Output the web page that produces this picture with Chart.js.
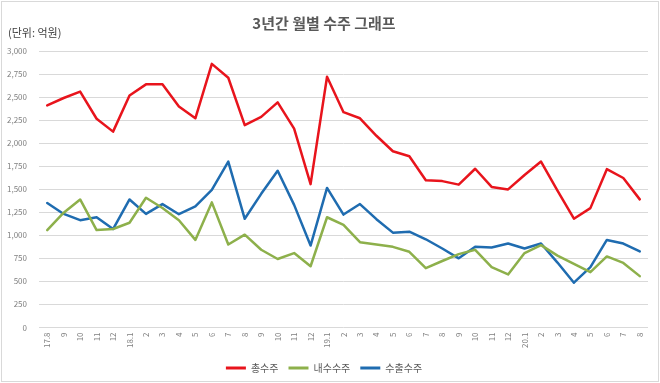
<!DOCTYPE html>
<html>
<head>
<meta charset="utf-8">
<script src="https://cdn.jsdelivr.net/npm/chart.js@4/dist/chart.umd.min.js"></script>
<style>
  html, body { margin: 0; padding: 0; background: #fff; }
  #wrap { position: relative; width: 660px; height: 383px; }
</style>
</head>
<body>
<div id="wrap"><canvas id="c" width="660" height="383"></canvas></div>
<script>
const categories = ['17.8','9','10','11','12','18.1','2','3','4','5','6','7','8','9','10','11','12','19.1','2','3','4','5','6','7','8','9','10','11','12','20.1','2','3','4','5','6','7','8'];
const totalOrders = [2410,2490,2560,2265,2125,2518,2638,2638,2398,2270,2860,2710,2195,2285,2443,2158,1555,2720,2336,2270,2080,1912,1858,1598,1588,1550,1722,1525,1498,1655,1800,1485,1180,1295,1718,1622,1390];
const domesticOrders = [1057,1245,1389,1057,1068,1136,1407,1296,1164,950,1357,900,1007,843,743,807,664,1196,1114,925,900,875,821,643,721,796,843,654,575,807,893,779,689,600,771,700,557];
const exportOrders = [1350,1232,1164,1196,1068,1389,1232,1339,1229,1314,1493,1800,1179,1450,1700,1330,889,1514,1225,1339,1175,1029,1039,957,857,750,875,868,911,857,911,704,486,654,950,911,825];
const seriesNames = ['총수주','내수수주','수출수주'];
const yTicks = [0,250,500,750,1000,1250,1500,1750,2000,2250,2500,2750,3000];

const FONT = "'Noto Sans CJK KR', 'Noto Sans', sans-serif";

const framePlugin = {
  id: 'frame',
  beforeDraw(chart) {
    const ctx = chart.ctx;
    ctx.save();
    ctx.fillStyle = '#ffffff';
    ctx.fillRect(0, 0, chart.width, chart.height);
    ctx.strokeStyle = '#d9d9d9';
    ctx.lineWidth = 1;
    ctx.strokeRect(1.5, 1.5, chart.width - 3, chart.height - 3);
    ctx.restore();
  },
  afterDraw(chart) {
    const ctx = chart.ctx;
    ctx.save();
    ctx.font = "11px " + FONT;
    ctx.fillStyle = '#404040';
    ctx.textBaseline = 'middle';
    ctx.textAlign = 'left';
    ctx.fillText('(단위: 억원)', 8, 33);
    ctx.restore();
  }
};

new Chart(document.getElementById('c'), {
  type: 'line',
  data: {
    labels: categories,
    datasets: [
      { label: seriesNames[0], data: totalOrders, borderColor: '#e8141c', backgroundColor: '#e8141c' },
      { label: seriesNames[1], data: domesticOrders, borderColor: '#8db04b', backgroundColor: '#8db04b' },
      { label: seriesNames[2], data: exportOrders, borderColor: '#1f6cb0', backgroundColor: '#1f6cb0' }
    ]
  },
  options: {
    responsive: false,
    animation: false,
    devicePixelRatio: 1,
    layout: { padding: { left: 0, right: 12, top: 0, bottom: 0 } },
    elements: {
      line: { borderWidth: 2.5, tension: 0, borderJoinStyle: 'round', borderCapStyle: 'round' },
      point: { radius: 0, hoverRadius: 0 }
    },
    scales: {
      x: {
        offset: true,
        grid: { display: false, drawTicks: false },
        border: { display: false },
        ticks: {
          font: { size: 8, family: FONT },
          color: '#7f7f7f',
          minRotation: 90,
          maxRotation: 90,
          autoSkip: false,
          padding: 5
        }
      },
      y: {
        min: 0,
        max: 3000,
        afterBuildTicks(scale) { scale.ticks = yTicks.map(v => ({ value: v })); },
        afterFit(scale) { scale.width = 39; },
        grid: { color: '#d9d9d9', drawTicks: false, lineWidth: 1 },
        border: { display: false },
        ticks: {
          font: { size: 8, family: FONT },
          color: '#7f7f7f',
          padding: 12,
          callback: v => v.toLocaleString('en-US')
        }
      }
    },
    plugins: {
      title: {
        display: true,
        text: '3년간 월별 수주 그래프',
        color: '#595959',
        font: { size: 15, weight: 'bold', family: FONT },
        padding: { top: 14, bottom: 19 }
      },
      legend: {
        position: 'bottom',
        labels: {
          boxWidth: 20,
          boxHeight: 3,
          padding: 10,
          color: '#595959',
          font: { size: 10, family: FONT, lineHeight: 1 },
          generateLabels(chart) {
            return chart.data.datasets.map((ds, i) => ({
              text: ds.label,
              fillStyle: ds.borderColor,
              strokeStyle: ds.borderColor,
              lineWidth: 0,
              datasetIndex: i,
              fontColor: '#595959'
            }));
          }
        }
      },
      tooltip: { enabled: false }
    }
  },
  plugins: [framePlugin]
});
</script>
</body>
</html>
